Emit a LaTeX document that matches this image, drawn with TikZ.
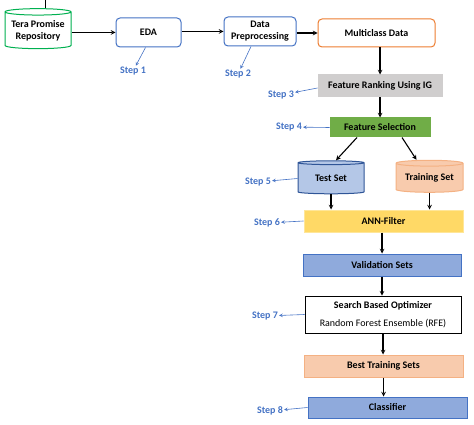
\documentclass[tikz,border=0pt]{standalone}
\usepackage{fontspec}
\setmainfont{Carlito}
\usetikzlibrary{shapes,arrows,positioning}
\definecolor{stepblue}{HTML}{4472C4}
\definecolor{darkblue}{HTML}{2F5597}
\definecolor{lightblue}{HTML}{B4C7E7}
\definecolor{midblue}{HTML}{8FAADC}
\definecolor{repogreen}{HTML}{00B050}
\definecolor{boxorange}{HTML}{ED7D31}
\definecolor{rankgray}{HTML}{D0CECE}
\definecolor{selgreen}{HTML}{70AD47}
\definecolor{peach}{HTML}{F8CBAD}
\definecolor{peachline}{HTML}{F4B183}
\definecolor{annyellow}{HTML}{FFD966}
\definecolor{annline}{HTML}{FFE699}

\begin{document}
\begin{tikzpicture}[
    x=1pt, y=-1pt,
    box/.style={rectangle, draw, inner sep=0pt, line width=1pt, text centered, font=\normalsize\bfseries},
    roundbox/.style={box, rounded corners=4pt, fill=white},
    fillbox/.style={box, minimum width=158pt, minimum height=22pt},
    store/.style={cylinder, shape border rotate=90, aspect=0.12, draw, line width=1pt, inner sep=0pt, text centered, font=\normalsize\bfseries},
    steplabel/.style={text=stepblue, font=\normalsize\bfseries, inner sep=1pt},
    stepline/.style={->, >=stealth, draw=stepblue, line width=0.6pt},
    arrow/.style={->, >=stealth, line width=1.1pt}
]
    \useasboundingbox (0,0) rectangle (474,425);

    % Nodes
    \node[store, draw=repogreen, fill=white, minimum width=66pt, minimum height=40pt, align=center] (repo) at (38,30.5) {Tera Promise\\Repository};
    \coordinate (tick) at (45,0);
    \node[roundbox, draw=stepblue, minimum width=65pt, minimum height=29pt] (eda) at (148.5,32.5) {EDA};
    \node[roundbox, draw=stepblue, minimum width=72pt, minimum height=29pt, align=center] (prep) at (260,31.5) {Data\\Preprocessing};
    \node[roundbox, draw=boxorange, minimum width=117pt, minimum height=28pt] (multi) at (376.5,33) {Multiclass Data};
    \node[box, draw=rankgray, fill=rankgray, minimum width=124pt, minimum height=22pt] (rank) at (380,86) {Feature Ranking Using IG};
    \node[box, draw=selgreen, fill=selgreen, minimum width=100pt, minimum height=19pt] (select) at (380,127.5) {Feature Selection};
    \node[store, draw=darkblue, fill=lightblue, minimum width=66pt, minimum height=33pt] (test) at (331,178.5) {Test Set};
    \node[store, draw=peachline, fill=peach, minimum width=67pt, minimum height=32pt] (train) at (429.5,178) {Training Set};
    \node[fillbox, draw=annline, fill=annyellow, minimum width=159pt] (ann) at (383.5,221) {ANN-Filter};
    \node[fillbox, draw=stepblue, fill=midblue] (valid) at (382,265) {Validation Sets};
    \node[box, line width=0.6pt, minimum width=156pt, minimum height=37pt, align=center] (search) at (383,314.5) {Search Based Optimizer\\[6pt]\mdseries Random Forest Ensemble (RFE)};
    \node[fillbox, draw=peachline, fill=peach, minimum width=159pt] (best) at (383.5,366) {Best Training Sets};
    \node[fillbox, draw=stepblue, fill=midblue, minimum width=159pt, minimum height=21pt] (clf) at (387.5,407.5) {Classifier};

    % Step labels
    \node[steplabel] (step1) at (133,71) {Step 1};
    \node[steplabel] (step2) at (238,74) {Step 2};
    \node[steplabel] (step3) at (281,95) {Step 3};
    \node[steplabel] (step4) at (289,127) {Step 4};
    \node[steplabel] (step5) at (258,182) {Step 5};
    \node[steplabel] (step6) at (267,223) {Step 6};
    \node[steplabel] (step7) at (265,316) {Step 7};
    \node[steplabel] (step8) at (270,411) {Step 8};

    % Arrows
    \draw[line width=0.6pt] (tick) -- (tick |- repo.north);
    \draw[arrow] (repo.east |- eda.west) -- (eda.west);
    \draw[arrow] (eda.east |- prep.west) -- (prep.west);
    \draw[arrow] (prep.east |- multi.west) -- (multi.west);
    \draw[arrow] (rank.north |- multi.south) -- (rank.north);
    \draw[arrow] (rank.south) -- (select.north);
    \draw[arrow] ([xshift=-23pt]select.south) -- ([xshift=5pt]test.north);
    \draw[arrow] ([xshift=22pt]select.south) -- ([xshift=-13pt]train.north);
    \draw[arrow] (test.south) -- (test.south |- ann.north);
    \draw[arrow] (train.south) -- (train.south |- ann.north);
    \draw[arrow] (valid.north |- ann.south) -- (valid.north);
    \draw[arrow] (valid.south) -- (valid.south |- search.north);
    \draw[arrow] (search.south) -- (search.south |- best.north);
    \draw[arrow] (best.south) -- (best.south |- clf.north);

    % Step arrows
    \draw[stepline] ([xshift=-3pt]eda.south) -- (step1);
    \draw[stepline] ([xshift=-9pt]prep.south) -- (step2);
    \draw[stepline] ([yshift=-2pt]rank.west) -- (step3);
    \draw[stepline] (select.west) -- (step4);
    \draw[stepline] (test.west) -- (step5);
    \draw[stepline] (ann.west) -- (step6);
    \draw[stepline] (search.west) -- (step7);
    \draw[stepline] (clf.west) -- (step8);
\end{tikzpicture}
\end{document}
